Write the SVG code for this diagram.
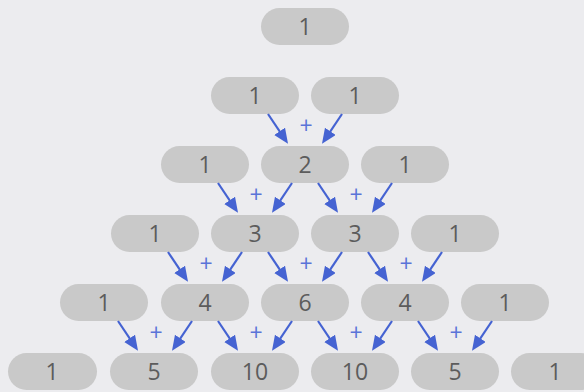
<svg xmlns="http://www.w3.org/2000/svg" width="584" height="392" viewBox="0 0 584 392">
<style>
.n rect{fill:#c9c9c9}
.n text{font-family:"Open Sans","Noto Sans","Liberation Sans",sans-serif;font-size:23px;fill:#5c5c5c;text-anchor:middle}
.c line{stroke:#4563d2;stroke-width:2.2;marker-end:url(#ah)}
.c text{font-family:"Open Sans","Liberation Sans",sans-serif;font-size:23px;fill:#5a74d8;text-anchor:middle}
</style>
<defs>
<marker id="ah" markerUnits="userSpaceOnUse" markerWidth="16" markerHeight="14" refX="10" refY="6.5" orient="auto">
<path d="M0,0 L15,6.5 L0,13 z" fill="#4563d2"/>
</marker>
</defs>
<rect width="584" height="392" fill="#ececef"/>
<g id="nodes">
<g class="n" id="n0_0"><rect x="261" y="8" width="88" height="37" rx="18.5"/><text x="305" y="34.5">1</text></g>
<g class="n" id="n1_0"><rect x="211" y="77" width="88" height="37" rx="18.5"/><text x="255" y="103.5">1</text></g>
<g class="n" id="n1_1"><rect x="311" y="77" width="88" height="37" rx="18.5"/><text x="355" y="103.5">1</text></g>
<g class="n" id="n2_0"><rect x="161" y="146" width="88" height="37" rx="18.5"/><text x="205" y="172.5">1</text></g>
<g class="n" id="n2_1"><rect x="261" y="146" width="88" height="37" rx="18.5"/><text x="305" y="172.5">2</text></g>
<g class="n" id="n2_2"><rect x="361" y="146" width="88" height="37" rx="18.5"/><text x="405" y="172.5">1</text></g>
<g class="n" id="n3_0"><rect x="111" y="215" width="88" height="37" rx="18.5"/><text x="155" y="241.5">1</text></g>
<g class="n" id="n3_1"><rect x="211" y="215" width="88" height="37" rx="18.5"/><text x="255" y="241.5">3</text></g>
<g class="n" id="n3_2"><rect x="311" y="215" width="88" height="37" rx="18.5"/><text x="355" y="241.5">3</text></g>
<g class="n" id="n3_3"><rect x="411" y="215" width="88" height="37" rx="18.5"/><text x="455" y="241.5">1</text></g>
<g class="n" id="n4_0"><rect x="60" y="284" width="88" height="37" rx="18.5"/><text x="104" y="310.5">1</text></g>
<g class="n" id="n4_1"><rect x="161" y="284" width="88" height="37" rx="18.5"/><text x="205" y="310.5">4</text></g>
<g class="n" id="n4_2"><rect x="261" y="284" width="88" height="37" rx="18.5"/><text x="305" y="310.5">6</text></g>
<g class="n" id="n4_3"><rect x="361" y="284" width="88" height="37" rx="18.5"/><text x="405" y="310.5">4</text></g>
<g class="n" id="n4_4"><rect x="461" y="284" width="88" height="37" rx="18.5"/><text x="505" y="310.5">1</text></g>
<g class="n" id="n5_0"><rect x="8" y="353" width="89" height="37" rx="18.5"/><text x="52" y="379.5">1</text></g>
<g class="n" id="n5_1"><rect x="110" y="353" width="88" height="37" rx="18.5"/><text x="154" y="379.5">5</text></g>
<g class="n" id="n5_2"><rect x="211" y="353" width="88" height="37" rx="18.5"/><text x="255" y="379.5">10</text></g>
<g class="n" id="n5_3"><rect x="311" y="353" width="88" height="37" rx="18.5"/><text x="355" y="379.5">10</text></g>
<g class="n" id="n5_4"><rect x="411" y="353" width="88" height="37" rx="18.5"/><text x="455" y="379.5">5</text></g>
<g class="n" id="n5_5"><rect x="511" y="353" width="88" height="37" rx="18.5"/><text x="555" y="379.5">1</text></g>
</g>
<g id="connectors" class="c">
<line x1="268" y1="114" x2="285.2" y2="139.6"/><line x1="342" y1="114" x2="324.8" y2="139.6"/><text x="306" y="134">+</text>
<line x1="218" y1="183" x2="235.2" y2="208.6"/><line x1="292" y1="183" x2="274.8" y2="208.6"/><text x="256" y="203">+</text>
<line x1="318" y1="183" x2="335.2" y2="208.6"/><line x1="392" y1="183" x2="374.8" y2="208.6"/><text x="356" y="203">+</text>
<line x1="168" y1="252" x2="185.2" y2="277.6"/><line x1="242" y1="252" x2="224.8" y2="277.6"/><text x="206" y="272">+</text>
<line x1="268" y1="252" x2="285.2" y2="277.6"/><line x1="342" y1="252" x2="324.8" y2="277.6"/><text x="306" y="272">+</text>
<line x1="368" y1="252" x2="385.2" y2="277.6"/><line x1="442" y1="252" x2="424.8" y2="277.6"/><text x="406" y="272">+</text>
<line x1="118" y1="321" x2="135.2" y2="346.6"/><line x1="192" y1="321" x2="174.8" y2="346.6"/><text x="156" y="341">+</text>
<line x1="218" y1="321" x2="235.2" y2="346.6"/><line x1="292" y1="321" x2="274.8" y2="346.6"/><text x="256" y="341">+</text>
<line x1="318" y1="321" x2="335.2" y2="346.6"/><line x1="392" y1="321" x2="374.8" y2="346.6"/><text x="356" y="341">+</text>
<line x1="418" y1="321" x2="435.2" y2="346.6"/><line x1="492" y1="321" x2="474.8" y2="346.6"/><text x="456" y="341">+</text>
</g>
</svg>
